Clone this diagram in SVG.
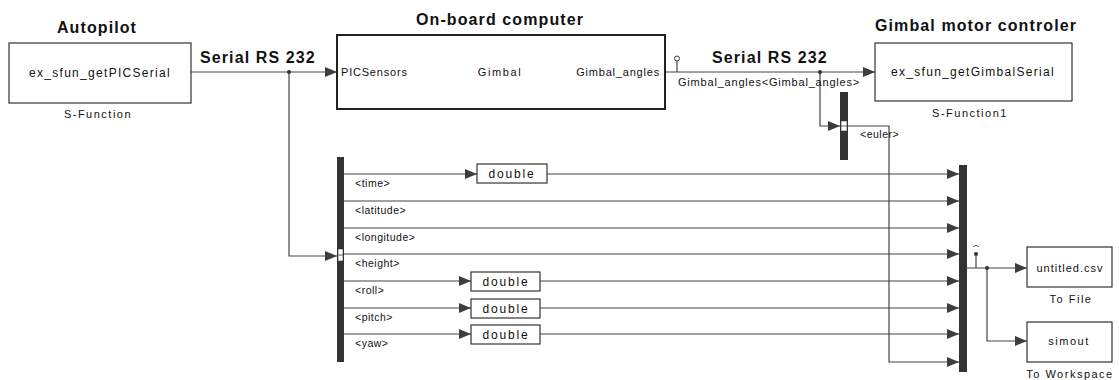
<svg xmlns="http://www.w3.org/2000/svg" width="1119" height="380" viewBox="0 0 1119 380">
  <defs>
    <marker id="arr" viewBox="0 0 12 10" refX="12" refY="5" markerWidth="12" markerHeight="10" markerUnits="userSpaceOnUse" orient="auto">
      <path d="M0,0 L12,5 L0,10 z" fill="#3c3c3c"/>
    </marker>
  </defs>
  <style>
    .blk { fill: #fff; stroke: #333; stroke-width: 1.2; }
    .blk2 { fill: #fff; stroke: #222; stroke-width: 2; }
    .bar { fill: #333; }
    .ln { fill: none; stroke: #444; stroke-width: 1.2; }
    .la { fill: none; stroke: #444; stroke-width: 1.2; marker-end: url(#arr); }
    .title { font-family: "Liberation Sans", Arial, sans-serif; font-weight: bold; font-size: 16px; fill: #111; letter-spacing: 1.1px; }
    .fn { font-family: "Liberation Sans", Arial, sans-serif; font-size: 12px; fill: #111; letter-spacing: 1.3px; }
    .nm { font-family: "Liberation Sans", Arial, sans-serif; font-size: 11px; fill: #111; letter-spacing: 1.5px; }
    .port { font-family: "Liberation Sans", Arial, sans-serif; font-size: 11px; fill: #111; letter-spacing: 0.8px; }
    .sig { font-family: "Liberation Sans", Arial, sans-serif; font-size: 10.5px; fill: #111; letter-spacing: 0.5px; }
    .dbl { font-family: "Liberation Sans", Arial, sans-serif; font-size: 12px; fill: #111; letter-spacing: 1.8px; }
    .mid { text-anchor: middle; }
  </style>

  <!-- signal lines -->
  <g id="connectors">
    <!-- autopilot to on-board computer -->
    <path class="la" d="M191,72 H337"/>
    <path class="la" d="M289,72 V256 H337"/>
    <circle cx="289" cy="72" r="2" fill="#333"/>
    <!-- on-board computer to gimbal motor controller -->
    <path class="la" d="M665,72 H875"/>
    <path class="ln" d="M677,72 V61"/>
    <circle cx="677" cy="58.5" r="2.5" fill="#fff" stroke="#333" stroke-width="1"/>
    <path class="la" d="M820,72 V126 H840"/>
    <circle cx="820" cy="72" r="2" fill="#333"/>
    <!-- euler to mux -->
    <path class="la" d="M848,126 H889 V362 H959"/>
    <!-- bus selector outputs -->
    <path class="la" d="M344,174 H477"/>
    <path class="la" d="M547,174 H959"/>
    <path class="la" d="M344,201 H959"/>
    <path class="la" d="M344,228 H959"/>
    <path class="la" d="M344,254 H959"/>
    <path class="la" d="M344,281 H471"/>
    <path class="la" d="M540,281 H959"/>
    <path class="la" d="M344,308 H471"/>
    <path class="la" d="M540,308 H959"/>
    <path class="la" d="M344,334 H471"/>
    <path class="la" d="M540,334 H959"/>
    <!-- mux output to sinks -->
    <path class="la" d="M967,268 H1027"/>
    <path class="la" d="M987,268 V341 H1027"/>
    <circle cx="987" cy="268" r="2" fill="#333"/>
    <path class="ln" d="M976,268 V254"/>
    <circle cx="976" cy="254" r="2" fill="#333"/>
    <path d="M973.5,247 Q976,243.5 978.5,247" fill="none" stroke="#444" stroke-width="1"/>
  </g>

  <g id="autopilot">
    <text class="title mid" x="97" y="33">Autopilot</text>
    <rect class="blk" x="9" y="43" width="182" height="60"/>
    <text class="fn mid" x="100" y="77">ex_sfun_getPICSerial</text>
    <text class="nm mid" x="98" y="118">S-Function</text>
  </g>

  <g id="serial-left">
    <text class="title" x="200" y="63">Serial RS 232</text>
  </g>

  <g id="onboard-computer">
    <text class="title mid" x="500" y="25">On-board computer</text>
    <rect class="blk2" x="337" y="35" width="328" height="74"/>
    <text class="port" x="341" y="76">PICSensors</text>
    <text class="port mid" x="500" y="76" style="letter-spacing:1.6px">Gimbal</text>
    <text class="port" x="660" y="76" text-anchor="end">Gimbal_angles</text>
  </g>

  <g id="serial-right">
    <text class="title" x="712" y="63">Serial RS 232</text>
    <text class="port" x="678" y="86">Gimbal_angles&lt;Gimbal_angles&gt;</text>
  </g>

  <g id="gimbal-motor-controller">
    <text class="title mid" x="976" y="31">Gimbal motor controler</text>
    <rect class="blk" x="875" y="43" width="197" height="58"/>
    <text class="fn mid" x="973" y="76">ex_sfun_getGimbalSerial</text>
    <text class="nm mid" x="970" y="117">S-Function1</text>
  </g>

  <g id="euler-selector">
    <rect class="bar" x="840" y="92" width="8" height="68"/>
    <rect x="841" y="121" width="6" height="10" fill="#fff" stroke="#333" stroke-width="0.6"/>
    <line x1="841" y1="126" x2="847" y2="126" stroke="#333" stroke-width="0.8"/>
    <text class="sig" x="860" y="138">&lt;euler&gt;</text>
  </g>

  <g id="bus-selector">
    <rect class="bar" x="337" y="157" width="7" height="205"/>
    <rect x="338" y="249" width="5" height="12" fill="#fff" stroke="#333" stroke-width="0.6"/>
    <line x1="338" y1="255" x2="343" y2="255" stroke="#333" stroke-width="0.8"/>
    <text class="sig" x="355" y="187">&lt;time&gt;</text>
    <text class="sig" x="355" y="214">&lt;latitude&gt;</text>
    <text class="sig" x="355" y="241">&lt;longitude&gt;</text>
    <text class="sig" x="355" y="267">&lt;height&gt;</text>
    <text class="sig" x="355" y="294">&lt;roll&gt;</text>
    <text class="sig" x="355" y="321">&lt;pitch&gt;</text>
    <text class="sig" x="355" y="347">&lt;yaw&gt;</text>
  </g>

  <g id="convert-time">
    <rect class="blk" x="477" y="164" width="70" height="19"/>
    <text class="dbl mid" x="512" y="178">double</text>
  </g>
  <g id="convert-roll">
    <rect class="blk" x="471" y="272" width="69" height="19"/>
    <text class="dbl mid" x="506" y="286">double</text>
  </g>
  <g id="convert-pitch">
    <rect class="blk" x="471" y="299" width="69" height="19"/>
    <text class="dbl mid" x="506" y="313">double</text>
  </g>
  <g id="convert-yaw">
    <rect class="blk" x="471" y="325" width="69" height="19"/>
    <text class="dbl mid" x="506" y="339">double</text>
  </g>

  <g id="mux">
    <rect class="bar" x="959" y="165" width="8" height="207"/>
  </g>

  <g id="to-file">
    <rect class="blk" x="1027" y="247" width="85" height="40"/>
    <text class="nm mid" x="1070" y="272" style="letter-spacing:1px">untitled.csv</text>
    <text class="nm mid" x="1071" y="303">To File</text>
  </g>

  <g id="to-workspace">
    <rect class="blk" x="1027" y="322" width="85" height="40"/>
    <text class="nm mid" x="1069" y="345">simout</text>
    <text class="nm mid" x="1070" y="378">To Workspace</text>
  </g>
</svg>
